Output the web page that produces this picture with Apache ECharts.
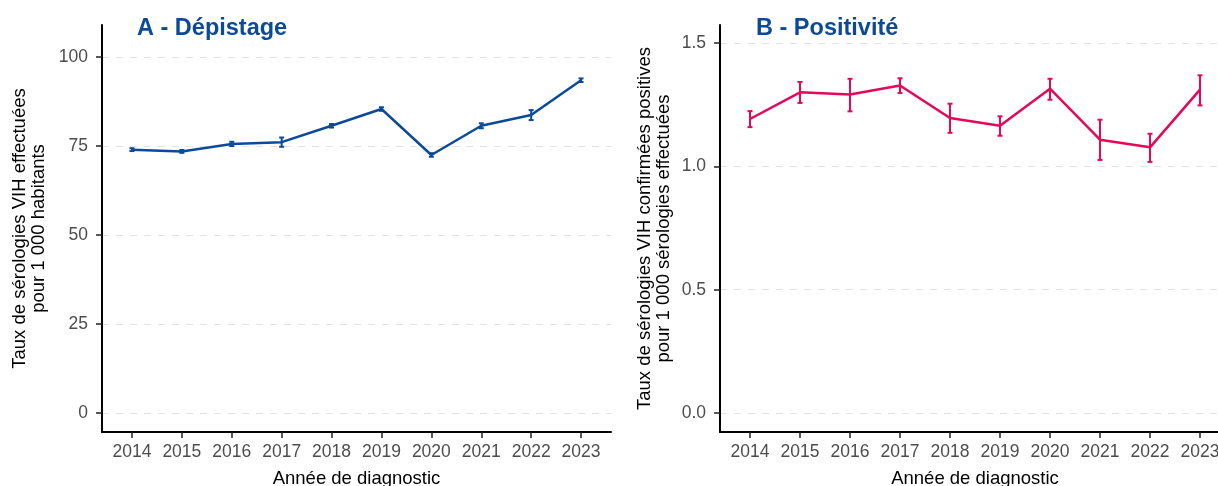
<!DOCTYPE html>
<html>
<head>
<meta charset="utf-8">
<script src="https://cdn.jsdelivr.net/npm/echarts@6/dist/echarts.min.js"></script>
<style>
  html, body { margin: 0; padding: 0; background: #fff; }
  #chart { width: 1218px; height: 486px; }
</style>
</head>
<body>
<div id="chart"></div>
<script>
const years = [2014, 2015, 2016, 2017, 2018, 2019, 2020, 2021, 2022, 2023]

// A - dépistage (pour 1 000 habitants)
const depistage = [74.0, 73.5, 75.6, 76.1, 80.7, 85.4, 72.5, 80.7, 83.7, 93.5]
const depistageLow = [73.6, 73.1, 75.0, 74.8, 80.2, 84.9, 72.0, 80.0, 82.3, 93.0]
const depistageHigh = [74.4, 73.9, 76.2, 77.4, 81.2, 85.9, 73.0, 81.4, 85.1, 94.0]

// B - positivité (pour 1 000 sérologies)
const positivite = [1.192, 1.300, 1.291, 1.328, 1.196, 1.165, 1.315, 1.108, 1.077, 1.311]
const positiviteLow = [1.159, 1.257, 1.223, 1.297, 1.136, 1.124, 1.270, 1.026, 1.018, 1.247]
const positiviteHigh = [1.224, 1.342, 1.355, 1.357, 1.254, 1.203, 1.355, 1.189, 1.132, 1.369]

const ticksA = [0, 25, 50, 75, 100]
const ticksB = [0, 0.5, 1.0, 1.5]

const blue = '#0B4A98'
const pink = '#E5075A'
const font = '"Liberation Sans", Arial, sans-serif'

let chart = echarts.init(document.getElementById('chart'))

const xAxis = (gridIndex) => ({
  type: 'value',
  gridIndex: gridIndex,
  min: 2013.4,
  max: 2023.6,
  name: 'Année de diagnostic',
  nameLocation: 'middle',
  nameGap: 37,
  nameTextStyle: { color: '#000', fontSize: 18.5, fontFamily: font },
  axisLine: { show: true, onZero: false, lineStyle: { color: '#000', width: 2 } },
  axisTick: { show: true, length: 6, customValues: years, lineStyle: { color: '#222', width: 1.5 } },
  axisLabel: { customValues: years, color: '#4D4D4D', fontSize: 17.5, fontFamily: font, margin: 11, formatter: v => String(v) },
  splitLine: { show: false }
})

const yAxis = (gridIndex, min, max, ticks, name, gap, fmt) => ({
  type: 'value',
  gridIndex: gridIndex,
  min: min,
  max: max,
  name: name,
  nameLocation: 'middle',
  nameRotate: 90,
  nameGap: gap,
  nameTextStyle: { color: '#000', fontSize: 18.5, fontFamily: font, lineHeight: 19 },
  axisLine: { show: true, onZero: false, lineStyle: { color: '#000', width: 2 } },
  axisTick: { show: true, length: 6, customValues: ticks, lineStyle: { color: '#222', width: 1.5 } },
  axisLabel: { customValues: ticks, color: '#4D4D4D', fontSize: 17.5, fontFamily: font, margin: 14, formatter: fmt },
  splitLine: { show: true, lineStyle: { color: '#E3E3E3', width: 1, type: [7, 7] } }
})

const errorBars = (xi, yi, low, high, color) => ({
  type: 'custom',
  xAxisIndex: xi,
  yAxisIndex: yi,
  data: years.map((y, i) => [y, low[i], high[i]]),
  renderItem: (params, api) => {
    const lo = api.coord([api.value(0), api.value(1)])
    const hi = api.coord([api.value(0), api.value(2)])
    const w = 2.5
    const style = { stroke: color, lineWidth: 2 }
    return {
      type: 'group',
      children: [
        { type: 'line', shape: { x1: lo[0], y1: lo[1], x2: hi[0], y2: hi[1] }, style: style },
        { type: 'line', shape: { x1: lo[0] - w, y1: lo[1], x2: lo[0] + w, y2: lo[1] }, style: style },
        { type: 'line', shape: { x1: hi[0] - w, y1: hi[1], x2: hi[0] + w, y2: hi[1] }, style: style }
      ]
    }
  },
  z: 3
})

let opts = {
  animation: false,
  title: [
    { text: 'A - Dépistage', left: 137, top: 17, padding: 0,
      textStyle: { color: blue, fontSize: 23.5, fontWeight: 'bold', fontFamily: font } },
    { text: 'B - Positivité', left: 756, top: 17, padding: 0,
      textStyle: { color: blue, fontSize: 23.5, fontWeight: 'bold', fontFamily: font } }
  ],
  grid: [
    { left: 102, top: 25, width: 509, height: 407, outerBoundsMode: 'none' },
    { left: 720, top: 25, width: 510, height: 407, outerBoundsMode: 'none' }
  ],
  xAxis: [xAxis(0), xAxis(1)],
  yAxis: [
    yAxis(0, -5.3, 109, ticksA, 'Taux de sérologies VIH effectuées\npour 1 000 habitants', 54, v => String(v)),
    yAxis(1, -0.077, 1.573, ticksB, 'Taux de sérologies VIH confirmées positives\npour 1 000 sérologies effectuées', 47, v => v.toFixed(1))
  ],
  series: [
    errorBars(0, 0, depistageLow, depistageHigh, blue),
    {
      type: 'line',
      xAxisIndex: 0,
      yAxisIndex: 0,
      data: years.map((y, i) => [y, depistage[i]]),
      symbol: 'none',
      lineStyle: { color: blue, width: 2.5 },
      z: 4
    },
    errorBars(1, 1, positiviteLow, positiviteHigh, pink),
    {
      type: 'line',
      xAxisIndex: 1,
      yAxisIndex: 1,
      data: years.map((y, i) => [y, positivite[i]]),
      symbol: 'none',
      lineStyle: { color: pink, width: 2.5 },
      z: 4
    }
  ]
}
chart.setOption(opts)
</script>
</body>
</html>
